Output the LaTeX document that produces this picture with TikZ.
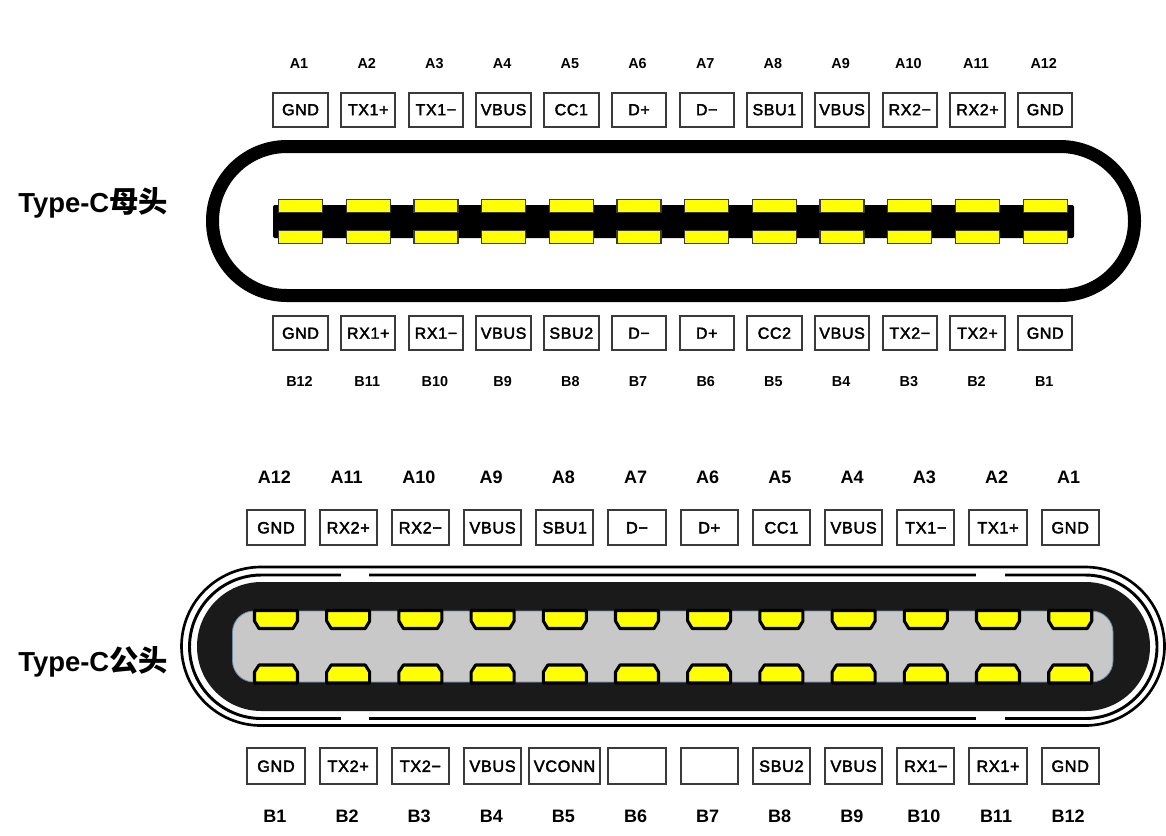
\documentclass[tikz,border=0pt]{standalone}
\usepackage{fontspec}
\setmainfont{Liberation Sans}
\newfontfamily\cjk{Noto Sans CJK SC}
\newfontfamily\signalfont[FakeBold=2.5,LetterSpace=4]{Liberation Sans}
\definecolor{pinyellow}{HTML}{FFFF00}
\definecolor{shellblack}{HTML}{1A1A1A}
\definecolor{tonguegrey}{HTML}{C8C8C8}
\definecolor{tongueedge}{HTML}{7088A8}
\definecolor{boxgrey}{HTML}{3A3A3A}
\tikzset{
    signalbox/.style={draw=boxgrey, line width=1.5pt, inner sep=0pt, text height=8.6pt, text depth=0pt, minimum width=40.8pt, minimum height=25.5pt, font=\fontsize{12}{12}\signalfont},
    plugbox/.style={signalbox, text height=8.8pt, minimum width=43pt, minimum height=26.6pt, font=\fontsize{12.2}{12.2}\signalfont},
    pinlabel/.style={inner sep=0pt, text height=7.8pt, text depth=0pt, font=\fontsize{10.8}{10.8}\selectfont\bfseries},
    pluglabel/.style={inner sep=0pt, text height=9.7pt, text depth=0pt, font=\fontsize{13.5}{13.5}\selectfont\bfseries},
    title/.style={anchor=west, inner sep=0pt, font=\fontsize{20.6}{20.6}\selectfont\bfseries},
    flatpin/.style={fill=pinyellow, draw=boxgrey, line width=1pt},
    plugpin/.style={fill=pinyellow, draw=black, line width=2.3pt, line join=round},
}
\begin{document}
\begin{tikzpicture}[x=0.75pt, y=-0.75pt]
    \useasboundingbox (0,0) rectangle (1166,835);
    % receptacle
    \draw [line width=9.75pt, rounded corners=55.8pt] (212.5,146.5) rectangle (1134.5,295.5);
    \fill [rounded corners=1.5pt] (273,205) rectangle (1074,238);
    \foreach \i in {0,...,11} {
        \draw [flatpin] ({278.5+67.7*\i},199.5) rectangle ({322.5+67.7*\i},212.5);
        \draw [flatpin] ({278.5+67.7*\i},230.5) rectangle ({322.5+67.7*\i},243.5);
    }
    \foreach \pin/\sig [count=\i from 0] in {A1/GND,A2/TX1+,A3/TX1−,A4/VBUS,A5/CC1,A6/D+,A7/D−,A8/SBU1,A9/VBUS,A10/RX2−,A11/RX2+,A12/GND} {
        \node [signalbox] (box\pin) at ({300.5+67.7*\i},109.5) {\sig};
        \node [pinlabel] (label\pin) at ({299+67.7*\i},63) {\pin};
    }
    \foreach \pin/\sig [count=\i from 0] in {B12/GND,B11/RX1+,B10/RX1−,B9/VBUS,B8/SBU2,B7/D−,B6/D+,B5/CC2,B4/VBUS,B3/TX2−,B2/TX2+,B1/GND} {
        \node [signalbox] (box\pin) at ({300.5+67.7*\i},333) {\sig};
        \node [pinlabel] (label\pin) at ({299.5+67.7*\i},381) {\pin};
    }
    \node [title] (receptacle) at (18,203) {Type-C{\cjk\bfseries\fontsize{22}{22}\selectfont 母头}};
    % plug
    \draw [line width=2pt, rounded corners=59.6pt] (181.5,567) rectangle (1164.5,725.5);
    \draw [line width=2.2pt, rounded corners=54pt] (189.5,575) rectangle (1157,718.5);
    \fill [white] (341,572) rectangle (369,578);
    \fill [white] (976,572) rectangle (1005,578);
    \fill [white] (341,716) rectangle (369,722);
    \fill [white] (976,716) rectangle (1005,722);
    \fill [shellblack, rounded corners=48.3pt] (197,582) rectangle (1150,711);
    \draw [draw=tongueedge, fill=tonguegrey, line width=0.6pt, rounded corners=16pt] (232.5,611) rectangle (1113,682);
    \foreach \i in {0,...,11} {
        \draw [plugpin, xshift={(276+72.2*\i)*0.75pt}] (-21.5,610.5) -- (21.5,610.5) -- (21.5,621) -- (17,628.5) -- (-17,628.5) -- (-21.5,621) -- cycle;
        \draw [plugpin, xshift={(276+72.2*\i)*0.75pt}] (-17,665) -- (17,665) -- (21.5,672) -- (21.5,683) -- (-21.5,683) -- (-21.5,672) -- cycle;
    }
    \foreach \pin/\sig [count=\i from 0] in {A12/GND,A11/RX2+,A10/RX2−,A9/VBUS,A8/SBU1,A7/D−,A6/D+,A5/CC1,A4/VBUS,A3/TX1−,A2/TX1+,A1/GND} {
        \node [plugbox] (plugbox\pin) at ({276+72.2*\i},527.5) {\sig};
        \node [pluglabel] (pluglabel\pin) at ({274.5+72.2*\i},477) {\pin};
    }
    \foreach \pin/\sig/\slot in {B1/GND/0,B2/TX2+/1,B3/TX2−/2,B4/VBUS/3,B6/{}/5,B7/{}/6,B8/SBU2/7,B9/VBUS/8,B10/RX1−/9,B11/RX1+/10,B12/GND/11} {
        \node [plugbox] (plugbox\pin) at ({276+72.2*\slot},766) {\sig};
    }
    \node [plugbox, minimum width=53.5pt] (plugboxB5) at (564.5,766) {VCONN};
    \foreach \pin [count=\i from 0] in {B1,B2,B3,B4,B5,B6,B7,B8,B9,B10,B11,B12} {
        \node [pluglabel] (pluglabel\pin) at ({275+72.1*\i},816) {\pin};
    }
    \node [title] (plug) at (18,662) {Type-C{\cjk\bfseries\fontsize{22}{22}\selectfont 公头}};
\end{tikzpicture}
\end{document}
